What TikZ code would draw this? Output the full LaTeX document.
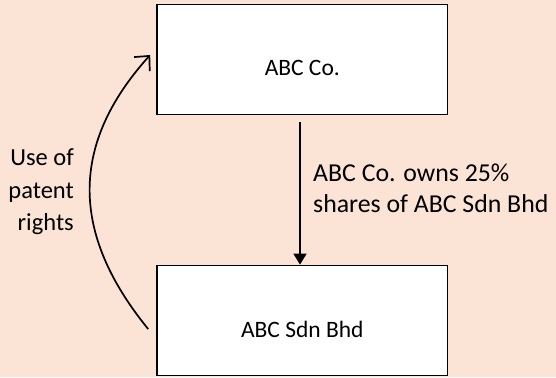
\documentclass[tikz,border=0pt]{standalone}
\usepackage{fontspec}
\setmainfont{Carlito}
\usetikzlibrary{arrows.meta}
\definecolor{peach}{HTML}{FBE3D6}
\begin{document}
\begin{tikzpicture}[x=1pt,y=-1pt,
  entity/.style={draw=black, fill=white, line width=1.8pt,
    minimum width=290.5pt, minimum height=110pt, inner sep=0pt,
    font=\fontsize{23.5}{28}\selectfont, text height=33pt, text depth=0pt},
  note/.style={inner sep=0pt, font=\fontsize{24.5}{32.5}\selectfont},
  link/.style={line width=1.7pt}]
  % page background
  \fill[peach] (0,0) rectangle (556,377);
  \useasboundingbox (0,0) rectangle (556,377);

  % the two companies
  \node[entity] (top) at (302.3,59.5) {ABC Co.};
  \node[entity] (bot) at (302.3,320.5) {ABC Sdn Bhd};

  % shareholding
  \coordinate (ownA) at ([xshift=-2.3pt,yshift=-7pt]top.south);
  \coordinate (ownB) at ([xshift=-2.3pt]bot.north);
  \draw[link,-{Triangle[width=13pt,length=11pt]}] (ownA) -- (ownB);
  \node[note, font=\fontsize{25.8}{31.5}\selectfont, align=left, anchor=west] (own) at (313,188.5)
    {ABC Co. owns 25\%\\shares of ABC Sdn Bhd};

  % patent rights
  \coordinate (patA) at ([xshift=-8pt,yshift=-8.5pt]bot.west);
  \coordinate (patB) at ([xshift=-6pt,yshift=4.5pt]top.west);
  \draw[link,-{Straight Barb[length=11pt,width=21pt]}]
    (patA) .. controls (70,233) and (70,144) .. (patB);
  \node[note, align=right, anchor=east] (pat) at (74,192)
    {Use of\\patent\\rights};
\end{tikzpicture}
\end{document}
